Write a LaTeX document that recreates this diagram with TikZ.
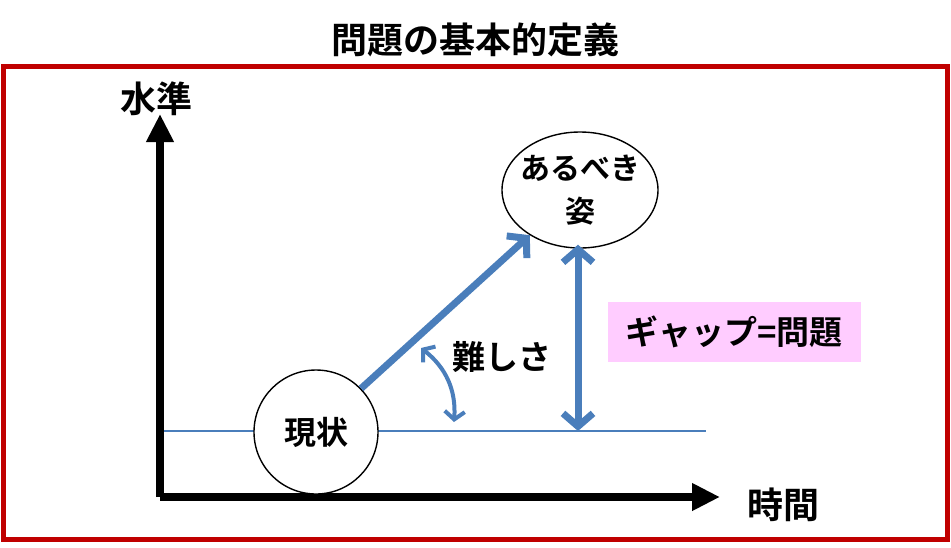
\documentclass[tikz,border=0pt]{standalone}
\usepackage{fontspec}
\setmainfont{Noto Sans CJK JP}[BoldFont={Noto Sans CJK JP Bold}]
\usetikzlibrary{arrows.meta,shapes.geometric}
\definecolor{frameRed}{HTML}{C00000}
\definecolor{arrowBlue}{HTML}{4A7EBB}
\definecolor{gapPink}{HTML}{FFCCFF}
\newcommand{\BigText}{\fontsize{36}{40}\selectfont\bfseries}
\newcommand{\MidText}{\fontsize{30}{43}\selectfont\bfseries}
\newcommand{\LabText}{\fontsize{33}{38}\selectfont\bfseries}

\begin{document}
\begin{tikzpicture}[x=1pt,y=-1pt,
    axis/.style={line width=8pt,-{Triangle[length=28pt,width=26pt]}},
    bluearrow/.style={arrowBlue,line width=7pt,-{Straight Barb[length=13pt,width=30pt]}},
    state/.style={draw,line width=1.4pt,fill=white,inner sep=0pt,font=\MidText,align=center}]
    \useasboundingbox (0,0) rectangle (951,547);
    \node[font=\BigText] (title) at (475,40) {問題の基本的定義};
    \draw[frameRed,line width=5pt] (3,66) rectangle (947,539);
    \coordinate (origin) at (160,497);
    \coordinate (ytop) at (160,114);
    \coordinate (xend) at (720,497);
    \coordinate (hl) at (160,431);
    \coordinate (hr) at (706,431);
    \coordinate (base) at (578,431);
    \coordinate (d1) at (421,348);
    \coordinate (d2) at (454,422);
    \draw[arrowBlue,line width=1.2pt] (hl) -- (hr);
    \draw[axis] (origin) -- (ytop);
    \draw[axis] (origin) -- (xend);
    \node[font=\BigText] (ylab) at (156,99) {水準};
    \node[font=\BigText] (xlab) at (783,505) {時間};
    \node[state,circle,minimum size=124pt,font=\fontsize{32}{38}\selectfont\bfseries] (now) at (316,432) {現状};
    \node[state,ellipse,inner xsep=-20pt,minimum width=156pt,minimum height=116pt] (goal) at (580,190) {あるべき\\姿};
    \draw[bluearrow] (now.44) -- (goal.222);
    \draw[bluearrow,{Straight Barb[length=13pt,width=30pt]}-{Straight Barb[length=13pt,width=30pt]}] ([yshift=4pt]goal.south -| base) -- (base);
    \draw[arrowBlue,line width=4pt,{Straight Barb[length=8pt,width=20pt]}-{Straight Barb[length=8pt,width=20pt]}] (d1) to[bend left=28] (d2);
    \node[font=\LabText] (hard) at (502,357) {難しさ};
    \node[fill=gapPink,minimum width=253pt,minimum height=60pt,font=\LabText] (gap) at (734,332) {ギャップ=問題};
\end{tikzpicture}
\end{document}
